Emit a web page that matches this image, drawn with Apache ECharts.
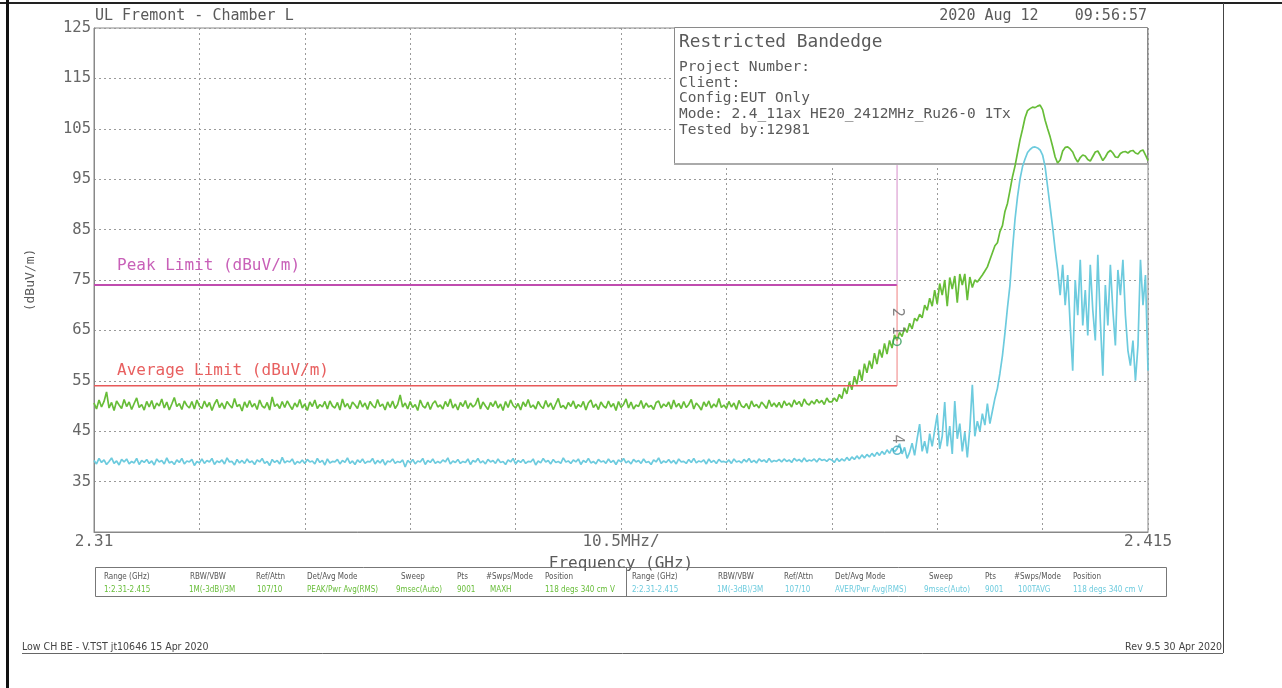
<!DOCTYPE html>
<html><head><meta charset="utf-8">
<script src="https://cdn.jsdelivr.net/npm/echarts@6/dist/echarts.min.js"></script>
<style>html,body{margin:0;padding:0;background:#fff}#c{width:1282px;height:688px}</style>
</head><body><div id="c"></div>
<script>
// ---- data ----
const freqStart = 2.31;      // GHz
const freqStep = 0.00025;    // GHz per sample
const freqMin = 2.31, freqMax = 2.415, freqDiv = 0.0105;

// Trace 1 (PEAK, green), flat part 2.31 .. 2.38325 GHz
const peakFlat = [
50.6,49.4,51.2,49.8,50.9,52.8,49.6,50.7,49.1,51.0,50.2,49.5,51.3,49.9,50.8,49.3,50.5,51.6,49.7,50.3,49.2,
50.9,49.8,51.1,49.4,50.6,50.0,51.4,49.6,50.8,49.2,50.4,51.7,49.9,50.5,49.3,51.0,50.1,49.6,50.9,49.4,51.2,
50.0,49.5,51.0,49.8,50.7,49.1,50.4,51.3,49.7,50.6,49.4,50.9,50.2,49.6,51.5,49.9,50.3,49.0,50.8,49.7,51.1,
49.8,50.5,49.3,51.2,50.0,49.6,50.7,49.2,51.8,49.9,50.4,49.5,50.9,49.7,51.0,50.1,49.3,50.6,49.8,51.3,49.6,
50.4,49.1,50.8,49.9,51.2,49.5,50.3,49.8,50.9,49.4,51.0,50.0,49.6,50.7,49.2,51.4,49.8,50.5,49.4,50.8,50.2,
49.5,51.1,49.8,50.6,49.3,50.9,50.1,49.6,51.3,49.9,50.4,49.2,50.8,49.7,51.0,49.5,50.3,52.2,49.8,50.6,49.4,
50.9,49.7,50.3,49.1,51.2,50.0,49.6,50.8,49.3,50.5,51.0,49.8,50.2,49.4,50.9,49.9,51.4,49.6,50.4,49.2,50.7,
49.9,51.1,49.5,50.6,49.8,50.3,51.6,49.4,50.8,50.0,49.3,50.7,49.9,51.0,49.6,50.4,49.1,50.9,49.7,51.2,50.1,
49.6,50.5,49.2,50.8,49.9,51.3,49.7,50.2,49.4,50.9,50.0,49.5,51.1,49.8,50.6,49.3,50.4,51.5,49.7,50.1,49.4,
50.7,49.9,51.0,49.5,50.3,49.8,50.9,49.2,50.6,51.2,49.7,50.4,49.3,50.8,50.0,49.6,51.0,49.8,50.5,49.1,50.9,
49.7,50.3,51.4,49.6,50.8,49.4,50.2,49.9,51.1,49.5,50.6,49.8,50.1,49.3,50.7,51.0,49.6,50.4,49.9,50.8,49.4,
51.2,49.8,50.5,49.5,50.9,49.7,50.3,51.3,49.4,50.6,50.0,49.2,50.8,49.9,51.0,49.6,50.4,49.8,51.5,49.7,50.2,
49.5,50.9,49.8,50.6,49.3,51.1,50.0,49.7,50.5,49.4,51.0,49.9,50.3,49.6,50.8,50.2,49.5,51.2,49.9,50.6,49.8,
50.7,49.6,51.0,50.1,50.6,49.8,51.2,50.3,50.9,49.9,51.4,50.5,50.2,51.0,50.4,51.3,50.6,51.1,50.3,51.6,50.8
];
// Trace 1, band edge rise, fundamental and ripple 2.3835 .. 2.415 GHz
const peakRise = [
50.8,51.6,50.9,52.3,51.5,53.6,52.4,54.8,53.2,55.9,54.3,57.2,55.0,58.4,56.6,59.0,57.4,60.5,58.3,61.2,59.6,62.4,60.3,63.0,61.5,64.1,63.0,
64.6,63.8,65.5,64.6,66.4,65.3,67.4,66.9,68.2,67.5,70.0,69.0,71.4,69.8,73.0,70.2,74.3,72.0,75.0,69.8,
75.5,73.2,75.8,70.5,76.2,74.0,76.2,71.0,75.6,73.5,75.0,74.6,75.3,76.0,76.8,77.6,79.0,80.4,81.8,82.4,
84.6,85.8,88.6,90.2,92.8,95.5,97.6,100.2,102.8,104.9,107.2,108.6,109.0,109.3,109.2,109.5,109.7,108.8,106.7,105.0,
103.4,101.5,99.4,98.2,98.8,100.6,101.3,101.4,101.0,100.4,99.2,98.4,99.3,99.8,99.6,98.9,98.6,99.5,100.4,100.6,
99.7,98.7,99.4,100.3,100.7,100.2,99.4,99.3,100.1,100.4,100.5,100.2,100.6,100.7,100.2,100.0,100.6,100.8,99.8,98.7
];
// Trace 2 (AVERAGE, cyan), flat part
const avgFlat = [
39.2,38.5,39.6,38.8,39.3,38.4,39.0,39.7,38.6,39.1,38.3,39.4,38.9,39.5,38.5,39.0,38.7,39.6,38.4,39.2,38.8,
39.4,38.6,39.1,38.3,39.5,38.9,39.2,38.5,39.7,38.7,39.0,38.4,39.3,38.8,39.6,38.5,39.1,38.9,39.4,38.2,39.0,
38.7,39.5,38.6,39.2,38.9,39.6,38.4,39.1,38.8,39.3,38.5,39.7,38.9,39.0,38.3,39.4,38.7,39.2,38.6,39.5,38.8,
39.1,38.4,39.3,38.9,39.6,38.6,39.0,38.2,39.4,38.8,39.2,38.5,39.8,38.7,39.1,38.9,39.5,38.4,39.0,38.7,39.3,
38.6,39.4,38.9,39.1,38.5,39.6,38.8,39.2,38.3,39.5,38.7,39.0,38.9,39.4,38.5,39.2,38.8,39.7,38.6,39.1,38.4,
39.3,38.8,39.5,38.6,39.0,38.9,39.6,38.5,39.2,38.7,39.4,38.3,39.1,38.9,39.5,38.6,39.0,38.8,39.3,37.9,39.2,
38.7,39.4,38.5,39.1,38.9,39.6,38.4,39.2,38.8,39.5,38.6,39.0,38.7,39.3,38.9,39.7,38.5,39.1,38.8,39.4,38.6,
39.0,38.8,39.5,38.4,39.2,38.9,39.6,38.7,39.1,38.5,39.4,38.9,39.2,38.6,39.5,38.8,39.0,38.4,39.3,38.9,39.6,
38.5,39.2,38.8,39.4,38.6,39.0,38.9,39.5,38.3,39.1,38.7,39.6,38.9,39.2,38.5,39.4,38.8,39.0,38.6,39.7,38.9,
39.1,38.6,39.3,38.9,39.5,38.4,39.2,38.8,39.6,38.7,39.0,38.5,39.4,38.9,39.1,38.6,39.5,38.8,39.2,38.4,39.3,
38.9,39.6,38.7,39.1,38.5,39.4,38.9,39.2,38.6,39.5,38.8,39.0,38.4,39.3,38.9,39.7,38.6,39.1,38.8,39.4,38.7,
39.2,38.5,39.5,38.9,39.0,38.6,39.4,38.8,39.6,38.7,39.1,38.9,39.3,38.5,39.5,38.8,39.2,38.6,39.4,38.9,39.0,
38.8,39.3,38.6,39.5,38.9,39.1,38.7,39.4,38.9,39.6,38.8,39.2,38.7,39.5,39.0,39.3,38.8,39.6,38.9,39.2,39.0,
39.4,38.9,39.5,39.0,39.3,38.8,39.6,39.1,39.4,38.9,39.7,39.0,39.3,39.1,39.5,38.9,39.6,39.2,39.4,39.0,39.5
];
// Trace 2, band edge rise and fundamental
const avgRise = [
39.3,38.8,39.6,39.0,39.5,39.1,39.8,39.2,39.9,39.4,40.1,39.5,40.3,39.7,40.4,39.9,40.6,40.0,40.8,40.2,41.0,40.4,41.3,40.6,41.6,40.9,
41.5,42.5,40.5,41.8,39.6,40.8,42.6,40.2,43.5,46.4,41.0,43.0,40.6,44.5,42.0,45.2,48.3,41.5,44.0,50.8,
42.0,46.0,40.5,51.0,43.5,46.5,41.0,44.8,39.8,45.5,54.2,44.0,47.0,45.0,48.5,46.2,50.5,46.5,49.0,51.5,
53.5,56.5,60.0,64.5,69.5,74.0,81.0,87.0,91.5,95.0,97.5,99.0,100.3,100.9,101.3,101.4,101.2,100.8,99.8,97.5,93.5,89.5,85.5
];
// Trace 2, out-of-band noise above the fundamental
const avgTail = [
81,77,72,78,70,76,66,57,75,68,79,66,73,64,78,69,63,80,67,56,74,66,78,69,62,77,72,79,68,61,58,63,55,62,79,70,76,57
];
// Limits and band edge
const peakLimitLine = [[2.31,74],[2.39,74]];
const peakEdgeLine = [[2.39,74],[2.39,97.8]];
const avgLimitLine = [[2.31,54],[2.39,54]];
const avgEdgeLine = [[2.39,54],[2.39,74]];
// Markers
const markerFreq = [2.39];
const markerPeakVal = [62.8];
const markerAvgVal = [41.2];
// Axis labels
const yMin = 25, yMax = 125, yStep = 10;
const xTickLabels = ['2.31', '10.5MHz/', '2.415'];
// Texts
const infoLines = ['Project Number:', 'Client:', 'Config:EUT Only', 'Mode: 2.4_11ax HE20_2412MHz_Ru26-0 1Tx', 'Tested by:12981'];
const tableHeaders = ['Range (GHz)','RBW/VBW','Ref/Attn','Det/Avg Mode','Sweep','Pts','#Swps/Mode','Position'];
const trace1Settings = ['1:2.31-2.415','1M(-3dB)/3M','107/10','PEAK/Pwr Avg(RMS)','9msec(Auto)','9001','MAXH','118 degs 340 cm V'];
const trace2Settings = ['2:2.31-2.415','1M(-3dB)/3M','107/10','AVER/Pwr Avg(RMS)','9msec(Auto)','9001','100TAVG','118 degs 340 cm V'];

// ---- build ----
function toXY(arr) { return arr.map((v, i) => [freqStart + i * freqStep, v]); }
const peakData = toXY(peakFlat.concat(peakRise));
const avgData = toXY(avgFlat.concat(avgRise, avgTail));

const GREEN = '#67bd38', CYAN = '#6dcbde', GRAY = '#5a5a5a';
const MONO = '"DejaVu Sans Mono", "Liberation Mono", monospace';
const NARROW = '"Liberation Sans Narrow", "DejaVu Sans Condensed", "DejaVu Sans", sans-serif';

const hdrX = [104,190,256,307,401,457,486,545];
const valX = [104,189,257,307,396,457,490,545];
const graphics = [];
// page frame
graphics.push({type:'line', shape:{x1:0,y1:3,x2:1282,y2:3}, style:{stroke:'#222',lineWidth:2}, z:10});
graphics.push({type:'line', shape:{x1:7.5,y1:0,x2:7.5,y2:688}, style:{stroke:'#111',lineWidth:3}, z:10});
graphics.push({type:'line', shape:{x1:1223.5,y1:3,x2:1223.5,y2:653}, style:{stroke:'#444',lineWidth:1}, z:10});
graphics.push({type:'line', shape:{x1:22,y1:653.5,x2:1223,y2:653.5}, style:{stroke:'#666',lineWidth:1}, z:10});
// header texts
graphics.push({type:'text', x:95, y:16, style:{text:'UL Fremont - Chamber L', font:'15px '+MONO, fill:GRAY, textVerticalAlign:'middle'}, z:10});
graphics.push({type:'text', x:1147, y:16, style:{text:'2020 Aug 12    09:56:57', font:'15px '+MONO, fill:GRAY, textAlign:'right', textVerticalAlign:'middle'}, z:10});
// info box
graphics.push({type:'rect', shape:{x:674.5,y:27.5,width:473,height:136}, style:{fill:'#fff',stroke:'#8a8a8a',lineWidth:1}, z:1});
graphics.push({type:'line', shape:{x1:674,y1:164,x2:1148,y2:164}, style:{stroke:'#aaa',lineWidth:2}, z:1});
graphics.push({type:'text', x:679, y:42, style:{text:'Restricted Bandedge', font:'17.8px '+MONO, fill:GRAY, textVerticalAlign:'middle'}, z:10});
infoLines.forEach((t, k) => graphics.push({type:'text', x:679, y:67 + k*15.8, style:{text:t, font:'14.5px '+MONO, fill:GRAY, textVerticalAlign:'middle'}, z:10}));
// limit labels
graphics.push({type:'text', x:117, y:266, style:{text:'Peak Limit (dBuV/m)', font:'16px '+MONO, fill:'#c860b8', textVerticalAlign:'middle'}, z:10});
graphics.push({type:'text', x:117, y:371, style:{text:'Average Limit (dBuV/m)', font:'16px '+MONO, fill:'#e86060', textVerticalAlign:'middle'}, z:10});
// settings table
graphics.push({type:'rect', shape:{x:95.5,y:567.5,width:1071,height:29}, style:{fill:'none',stroke:'#777',lineWidth:1}, z:10});
graphics.push({type:'line', shape:{x1:626.5,y1:567,x2:626.5,y2:597}, style:{stroke:'#777',lineWidth:1}, z:10});
[0, 528].forEach((off, h) => {
  tableHeaders.forEach((t, k) => graphics.push({type:'text', x:hdrX[k]+off, y:577, style:{text:t, font:'8px '+NARROW, fill:'#555', textVerticalAlign:'middle'}, z:10}));
  (h === 0 ? trace1Settings : trace2Settings).forEach((t, k) => graphics.push({type:'text', x:valX[k]+off, y:590, style:{text:t, font:'8px '+NARROW, fill:(h===0?GREEN:CYAN), textVerticalAlign:'middle'}, z:10}));
});
// footer
graphics.push({type:'text', x:22, y:647, style:{text:'Low CH BE - V.TST jt10646 15 Apr 2020', font:'10.5px '+NARROW, fill:'#444', textVerticalAlign:'middle'}, z:10});
graphics.push({type:'text', x:1222, y:647, style:{text:'Rev 9.5 30 Apr 2020', font:'10.5px '+NARROW, fill:'#444', textAlign:'right', textVerticalAlign:'middle'}, z:10});

const chart = echarts.init(document.getElementById('c'), null, {renderer:'canvas'});
chart.setOption({
  animation: false,
  backgroundColor: '#fff',
  grid: {left:94, top:28, right:134, bottom:156, show:true, borderColor:'#888', borderWidth:1, backgroundColor:'transparent'},
  xAxis: {
    type:'value', min:freqMin, max:freqMax, interval:freqDiv,
    name:'Frequency (GHz)', nameLocation:'middle', nameGap:24,
    nameTextStyle:{fontFamily:MONO, fontSize:16, color:GRAY},
    axisLine:{show:true, lineStyle:{color:'#888'}}, axisTick:{show:false},
    splitLine:{show:true, lineStyle:{color:'#9a9a9a', type:[2,3], width:1}},
    axisLabel:{
      margin:2, fontFamily:MONO, fontSize:16, color:'#666', showMinLabel:true, showMaxLabel:true, hideOverlap:false,
      formatter: function(v){
        if (Math.abs(v - freqMin) < 1e-7) return xTickLabels[0];
        if (Math.abs(v - (freqMin+freqMax)/2) < 1e-7) return xTickLabels[1];
        if (Math.abs(v - freqMax) < 1e-7) return xTickLabels[2];
        return '';
      }
    }
  },
  yAxis: {
    type:'value', min:yMin, max:yMax, interval:yStep,
    name:'(dBuV/m)', nameLocation:'middle', nameRotate:90, nameGap:57,
    nameTextStyle:{fontFamily:MONO, fontSize:13, color:GRAY},
    axisLine:{show:true, lineStyle:{color:'#888'}}, axisTick:{show:false},
    splitLine:{show:true, lineStyle:{color:'#9a9a9a', type:[2,3], width:1}},
    axisLabel:{margin:3, fontFamily:MONO, fontSize:15.5, color:'#666', showMaxLabel:true,
      formatter: v => (v === yMin ? '' : String(v))}
  },
  graphic: graphics,
  series: [
    {type:'line', name:'Peak', data:peakData, showSymbol:false, symbol:'none', sampling:null, lineStyle:{color:GREEN, width:1.7}, z:3, silent:true},
    {type:'line', name:'Average', data:avgData, showSymbol:false, symbol:'none', lineStyle:{color:CYAN, width:1.7}, z:3, silent:true},
    {type:'line', name:'Peak Limit', data:peakLimitLine, symbol:'none', lineStyle:{color:'#c04caf', width:2}, z:4, silent:true},
    {type:'line', name:'Peak Edge', data:peakEdgeLine, symbol:'none', lineStyle:{color:'#d58cc9', width:1}, z:4, silent:true},
    {type:'line', name:'Average Limit', data:avgLimitLine, symbol:'none', lineStyle:{color:'#e85a5a', width:1.5}, z:4, silent:true},
    {type:'line', name:'Average Edge', data:avgEdgeLine, symbol:'none', lineStyle:{color:'#ef8080', width:1}, z:4, silent:true},
    {type:'scatter', name:'M1/M2', data:markerFreq.map((f,k)=>[f, markerPeakVal[k]]), symbol:'circle', symbolSize:8,
      itemStyle:{color:'rgba(0,0,0,0)', borderColor:'#2e9a55', borderWidth:1.5}, z:5, silent:true,
      label:{show:true, position:'top', distance:2, rotate:-90, align:'right', verticalAlign:'middle', formatter:'2 1', fontFamily:MONO, fontSize:15, color:'#666'}},
    {type:'scatter', name:'M3/M4', data:markerFreq.map((f,k)=>[f, markerAvgVal[k]]), symbol:'circle', symbolSize:8,
      itemStyle:{color:'rgba(0,0,0,0)', borderColor:'#3aaac0', borderWidth:1.5}, z:5, silent:true,
      label:{show:true, position:'top', distance:2, rotate:-90, align:'right', verticalAlign:'middle', formatter:'4', fontFamily:MONO, fontSize:15, color:'#666'}}
  ]
});
</script></body></html>
